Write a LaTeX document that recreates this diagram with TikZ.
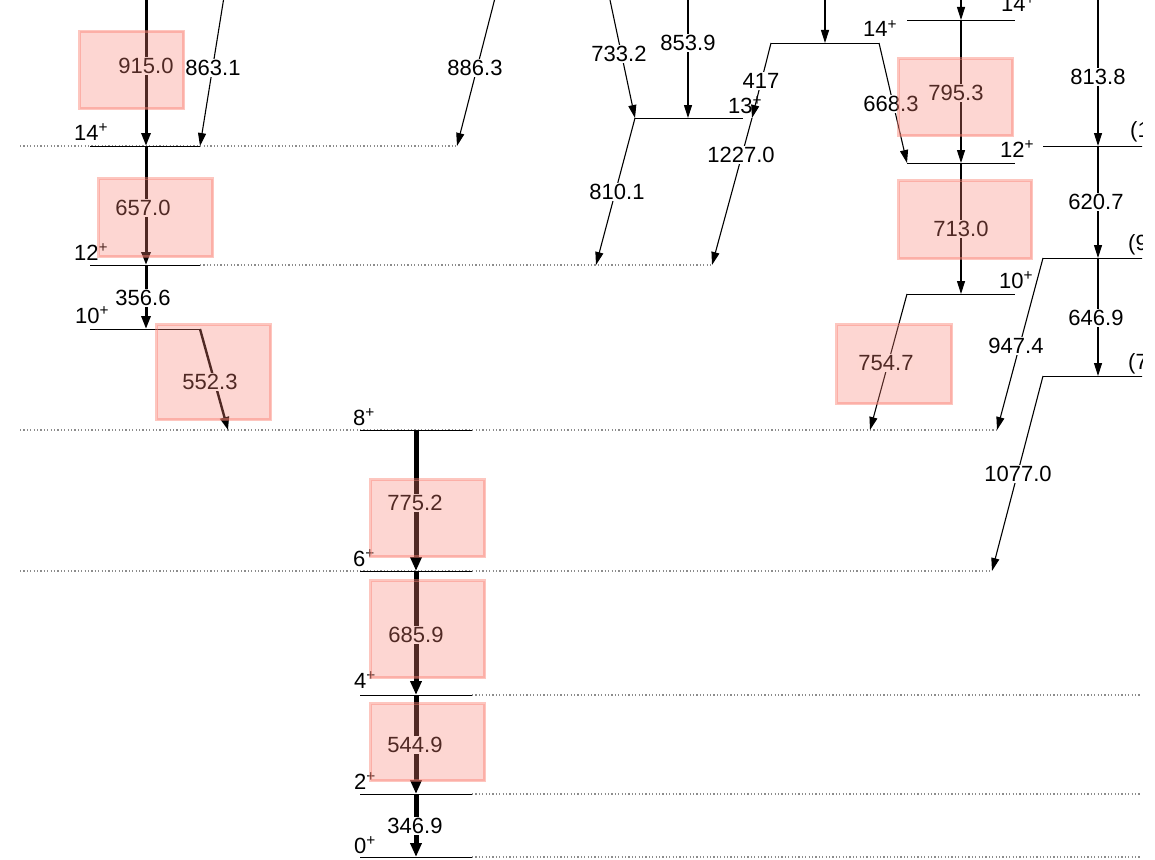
\documentclass[tikz,border=0pt]{standalone}
\usepackage{fontspec}
\setmainfont{Liberation Sans}
\usetikzlibrary{arrows.meta}
\definecolor{salmonc}{RGB}{250,128,114}
\definecolor{dotc}{RGB}{140,140,140}
\begin{document}
\begin{tikzpicture}[x=1pt,y=-1pt,
  lev/.style={line width=0.9pt,black},
  dotl/.style={line width=1.2pt,dotc,dash pattern=on 1.2pt off 2.2pt},
  tr/.style={line width=1.1pt,-{Triangle[length=13pt,width=8pt]}},
  trm/.style={line width=2.4pt,-{Triangle[length=13pt,width=9pt]}},
  trk/.style={line width=3pt,-{Triangle[length=13pt,width=9pt]}},
  trx/.style={line width=5pt,-{Triangle[length=14pt,width=11pt]}},
  glab/.style={fill=white,inner sep=1pt,font=\fontsize{22}{24}\selectfont},
  slab/.style={anchor=base west,inner sep=0pt,font=\fontsize{22}{24}\selectfont},
  hbox/.style={fill=salmonc,fill opacity=0.32,draw=salmonc,draw opacity=0.45,line width=3pt}
]
\useasboundingbox (0,0) rectangle (1155,859);
\clip (0,0) rectangle (1142,859);

% ---------- dotted level extensions ----------
\draw[dotl] (20,146) -- (457,146);
\draw[dotl] (200,265) -- (712,265);
\draw[dotl] (20,430) -- (997,430);
\draw[dotl] (20,571) -- (992,571);
\draw[dotl] (472,695) -- (1140,695);
\draw[dotl] (472,794) -- (1140,794);
\draw[dotl] (472,857) -- (1140,857);

% ---------- levels ----------
\draw[lev] (90,146) -- (200,146);
\draw[lev] (90,265) -- (200,265);
\draw[lev] (90,329) -- (200,329);
\draw[lev] (360,430) -- (472,430);
\draw[lev] (360,571) -- (472,571);
\draw[lev] (360,695) -- (472,695);
\draw[lev] (360,794) -- (472,794);
\draw[lev] (360,857) -- (472,857);
\draw[lev] (635,118) -- (743,118);
\draw[lev] (771,43) -- (879,43);
\draw[lev] (907,20) -- (1015,20);
\draw[lev] (907,163) -- (1015,163);
\draw[lev] (907,294) -- (1015,294);
\draw[lev] (1043,146) -- (1160,146);
\draw[lev] (1043,258) -- (1160,258);
\draw[lev] (1043,376) -- (1160,376);

% ---------- coordinates ----------
\coordinate (a0) at (146,0);
\coordinate (a14) at (146,146);
\coordinate (a12) at (146,265);
\coordinate (a10) at (146,329);
\coordinate (b0) at (223.5,0);
\coordinate (b14) at (200,146);
\coordinate (c0) at (494.5,0);
\coordinate (c14) at (457,146);
\coordinate (d10) at (200,329);
\coordinate (d8) at (228,430);
\coordinate (g8) at (416,430);
\coordinate (g6) at (416,571);
\coordinate (g4) at (416,695);
\coordinate (g2) at (416,794);
\coordinate (g0) at (416,857);
\coordinate (m0) at (610,0);
\coordinate (m13) at (635,118);
\coordinate (n0) at (688,0);
\coordinate (n13) at (688,118);
\coordinate (m12) at (596,265);
\coordinate (p14) at (771,43);
\coordinate (p13) at (752,118);
\coordinate (p12) at (712,265);
\coordinate (q0) at (825,0);
\coordinate (q14) at (825,43);
\coordinate (r14) at (879,43);
\coordinate (r12) at (907,163);
\coordinate (s0) at (961,0);
\coordinate (s16) at (961,20);
\coordinate (s12) at (961,163);
\coordinate (s10) at (961,294);
\coordinate (t10) at (907,294);
\coordinate (t8) at (870,430);
\coordinate (u9) at (1043,258);
\coordinate (u8) at (997,430);
\coordinate (v0) at (1098,0);
\coordinate (v11) at (1098,146);
\coordinate (v9) at (1098,258);
\coordinate (v7) at (1098,376);
\coordinate (w7) at (1043,376);
\coordinate (w6) at (992,571);

% ---------- transitions ----------
\draw[trk] (a0) -- (a14);
\draw[trk] (a14) -- (a12);
\draw[trk] (a12) -- (a10);
\draw[tr] (b0) -- (b14);
\draw[tr] (c0) -- (c14);
\draw[trm] (d10) -- (d8);
\draw[trx] (g8) -- (g6);
\draw[trx] (g6) -- (g4);
\draw[trx] (g4) -- (g2);
\draw[trx] (g2) -- (g0);
\draw[tr] (m0) -- (m13);
\draw[tr] (n0) -- (n13);
\draw[tr] (m13) -- (m12);
\draw[tr] (p14) -- (p13);
\draw[tr] (p13) -- (p12);
\draw[tr] (q0) -- (q14);
\draw[tr] (r14) -- (r12);
\draw[tr] (s0) -- (s16);
\draw[tr] (s16) -- (s12);
\draw[tr] (s12) -- (s10);
\draw[tr] (t10) -- (t8);
\draw[tr] (u9) -- (u8);
\draw[tr] (v0) -- (v11);
\draw[tr] (v11) -- (v9);
\draw[tr] (v9) -- (v7);
\draw[tr] (w7) -- (w6);

% ---------- gamma labels ----------
\node[glab] (l915) at (146,66) {915.0};
\node[glab] (l863) at (213,68) {863.1};
\node[glab] (l657) at (143,208) {657.0};
\node[glab] (l356) at (143,298) {356.6};
\node[glab] (l552) at (210,382) {552.3};
\node[glab] (l886) at (475,68) {886.3};
\node[glab] (l733) at (619,54) {733.2};
\node[glab] (l853) at (688,43) {853.9};
\node[glab] (l810) at (617,192) {810.1};
\node[glab] (l417) at (761,81) {417};
\node[glab] (l1227) at (741,155) {1227.0};
\node[glab] (l668) at (891,104) {668.3};
\node[glab] (l795) at (956,93) {795.3};
\node[glab] (l713) at (961,229) {713.0};
\node[glab] (l754) at (886,363) {754.7};
\node[glab] (l947) at (1016,346) {947.4};
\node[glab] (l813) at (1098,77) {813.8};
\node[glab] (l620) at (1096,202) {620.7};
\node[glab] (l646) at (1096,318) {646.9};
\node[glab] (l1077) at (1018,474) {1077.0};
\node[glab] (l775) at (415,503) {775.2};
\node[glab] (l685) at (416,635) {685.9};
\node[glab] (l544) at (415,745) {544.9};
\node[glab] (l346) at (415,826) {346.9};

% ---------- spin labels ----------
\node[slab] (s14a) at (74,140) {14\textsuperscript{+}};
\node[slab] (s12a) at (74,260) {12\textsuperscript{+}};
\node[slab] (s10a) at (75,323) {10\textsuperscript{+}};
\node[slab] (s8) at (353,425) {8\textsuperscript{+}};
\node[slab] (s6) at (353,566) {6\textsuperscript{+}};
\node[slab] (s4) at (354,688) {4\textsuperscript{+}};
\node[slab] (s2) at (354,789) {2\textsuperscript{+}};
\node[slab] (s0l) at (354,853) {0\textsuperscript{+}};
\node[slab] (s13) at (728,113) {13\textsuperscript{+}};
\node[slab] (s14b) at (863,37) {14\textsuperscript{+}};
\node[slab] (s16b) at (1001,12) {14\textsuperscript{+}};
\node[slab] (s12b) at (1000,157) {12\textsuperscript{+}};
\node[slab] (s10b) at (999,288) {10\textsuperscript{+}};
\node[slab] (s11c) at (1130,137) {(11)};
\node[slab] (s9c) at (1128,250) {(9)};
\node[slab] (s7c) at (1128,369) {(7)};

% ---------- highlight boxes ----------
\draw[hbox] (79.5,31.5) rectangle (183.5,108.5);
\draw[hbox] (98.5,178.5) rectangle (212.5,256.5);
\draw[hbox] (156.5,324.5) rectangle (270.5,419.5);
\draw[hbox] (370.5,479.5) rectangle (484.5,556.5);
\draw[hbox] (370.5,580.5) rectangle (484.5,677.5);
\draw[hbox] (370.5,703.5) rectangle (484.5,780.5);
\draw[hbox] (898.5,58.5) rectangle (1012.5,135.5);
\draw[hbox] (898.5,180.5) rectangle (1031.5,258.5);
\draw[hbox] (836.5,324.5) rectangle (951.5,403.5);
\end{tikzpicture}
\end{document}
